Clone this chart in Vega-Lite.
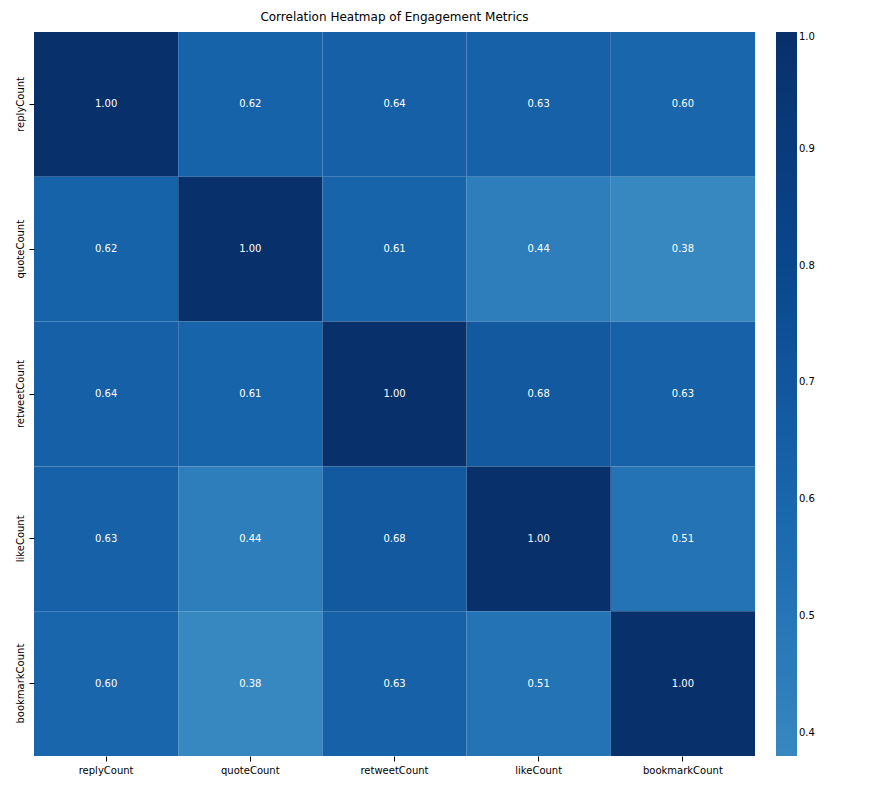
{
"$schema":"https://vega.github.io/schema/vega-lite/v6.json",
"autosize":{"type":"none"},
"padding":{"left":34,"top":32,"right":128,"bottom":34},
"width":721,"height":724,
"title":{"text":"Correlation Heatmap of Engagement Metrics","font":"DejaVu Sans","fontSize":12,"fontWeight":"normal","offset":8},
"config":{"view":{"stroke":null},"font":"DejaVu Sans"},
"data":{"values":[
{"x":"replyCount","y":"replyCount","v":1.00},{"x":"quoteCount","y":"replyCount","v":0.62},{"x":"retweetCount","y":"replyCount","v":0.64},{"x":"likeCount","y":"replyCount","v":0.63},{"x":"bookmarkCount","y":"replyCount","v":0.60},
{"x":"replyCount","y":"quoteCount","v":0.62},{"x":"quoteCount","y":"quoteCount","v":1.00},{"x":"retweetCount","y":"quoteCount","v":0.61},{"x":"likeCount","y":"quoteCount","v":0.44},{"x":"bookmarkCount","y":"quoteCount","v":0.38},
{"x":"replyCount","y":"retweetCount","v":0.64},{"x":"quoteCount","y":"retweetCount","v":0.61},{"x":"retweetCount","y":"retweetCount","v":1.00},{"x":"likeCount","y":"retweetCount","v":0.68},{"x":"bookmarkCount","y":"retweetCount","v":0.63},
{"x":"replyCount","y":"likeCount","v":0.63},{"x":"quoteCount","y":"likeCount","v":0.44},{"x":"retweetCount","y":"likeCount","v":0.68},{"x":"likeCount","y":"likeCount","v":1.00},{"x":"bookmarkCount","y":"likeCount","v":0.51},
{"x":"replyCount","y":"bookmarkCount","v":0.60},{"x":"quoteCount","y":"bookmarkCount","v":0.38},{"x":"retweetCount","y":"bookmarkCount","v":0.63},{"x":"likeCount","y":"bookmarkCount","v":0.51},{"x":"bookmarkCount","y":"bookmarkCount","v":1.00}
]},
"encoding":{
"x":{"field":"x","type":"nominal","sort":null,"title":null,"axis":{"labelAngle":0,"labelFontSize":10,"labelColor":"#000","tickColor":"#000","domain":false,"labelPadding":4}},
"y":{"field":"y","type":"nominal","sort":null,"title":null,"axis":{"labelAngle":-90,"labelFontSize":10,"labelColor":"#000","tickColor":"#000","domain":false,"labelAlign":"center","labelBaseline":"bottom","labelPadding":4}}
},
"layer":[
{"mark":{"type":"rect","strokeWidth":0},"encoding":{"color":{"field":"v","type":"quantitative","scale":{"domain":[0.38,0.6125,0.8075,1],"range":["#3787c0","#1764ab","#08468b","#08306b"]},"legend":{"title":null,"gradientLength":724,"gradientThickness":21,"offset":21,"values":[0.4,0.5,0.6,0.7,0.8,0.9,1.0],"format":".1f","labelFontSize":10,"labelColor":"#000","gradientStrokeWidth":0}}}},
{"mark":{"type":"text","color":"white","fontSize":10},"encoding":{"text":{"field":"v","type":"quantitative","format":".2f"}}}
]
}
